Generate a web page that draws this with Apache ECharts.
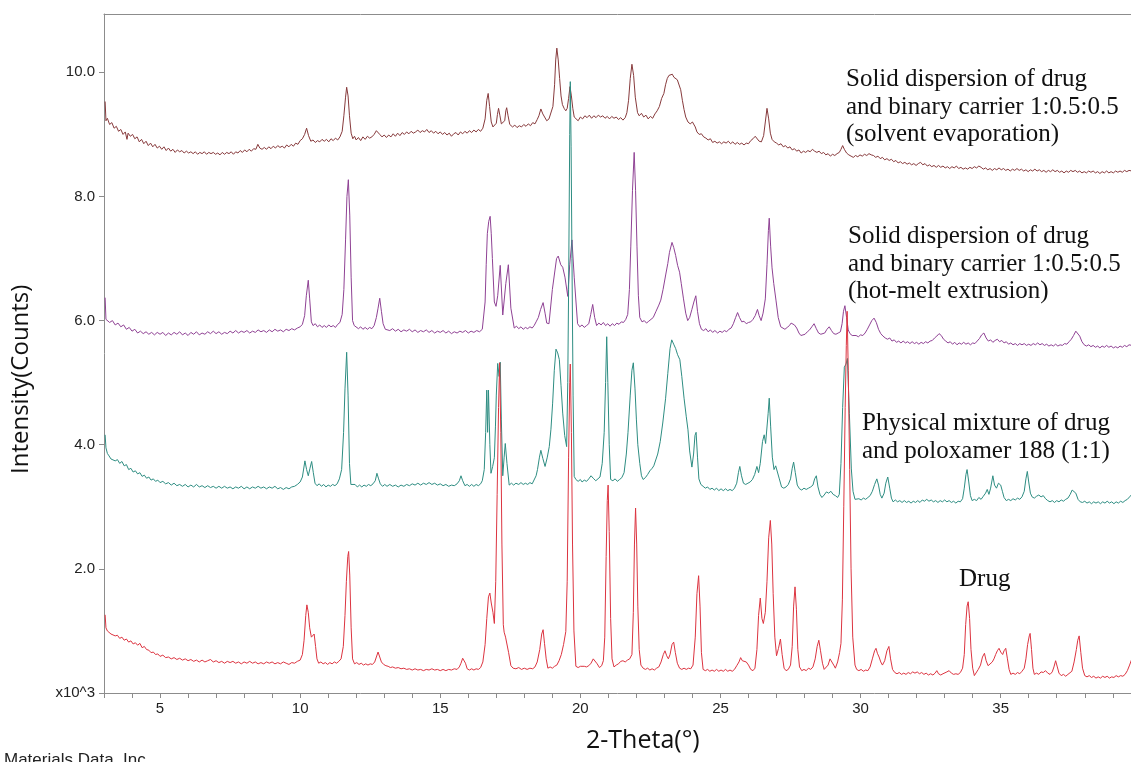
<!DOCTYPE html>
<html>
<head>
<meta charset="utf-8">
<title>XRD patterns</title>
<script src="https://cdn.jsdelivr.net/npm/echarts@6/dist/echarts.min.js"></script>
<style>
  html, body { margin: 0; padding: 0; background: #fff; }
  #chart { width: 1131px; height: 762px; }
</style>
</head>
<body>
<div id="chart"></div>
<script>
// 2-Theta (deg) / intensity (x10^3 counts) pairs for each sample
const sePattern = [
  [3.04, 9.53], [3.07, 9.22], [3.12, 9.26], [3.2, 9.16], [3.28, 9.19], [3.36, 9.10], [3.44, 9.13], [3.52, 9.05],
  [3.6, 9.08], [3.68, 9.00], [3.76, 9.04], [3.82, 8.92], [3.86, 9.02], [3.94, 8.97], [4.02, 9.00], [4.1, 8.93],
  [4.18, 8.96], [4.26, 8.88], [4.34, 8.92], [4.42, 8.85], [4.5, 8.89], [4.58, 8.82], [4.66, 8.86], [4.74, 8.80],
  [4.82, 8.84], [4.9, 8.78], [4.98, 8.81], [5.06, 8.76], [5.14, 8.80], [5.22, 8.74], [5.3, 8.78], [5.38, 8.73],
  [5.46, 8.76], [5.54, 8.71], [5.62, 8.75], [5.7, 8.72], [5.78, 8.74], [5.86, 8.70], [5.94, 8.73], [6.02, 8.70],
  [6.1, 8.72], [6.18, 8.69], [6.26, 8.72], [6.34, 8.68], [6.42, 8.71], [6.5, 8.69], [6.58, 8.72], [6.66, 8.68],
  [6.74, 8.71], [6.82, 8.69], [6.9, 8.71], [6.98, 8.68], [7.06, 8.70], [7.14, 8.67], [7.22, 8.71], [7.3, 8.68],
  [7.38, 8.71], [7.46, 8.69], [7.54, 8.72], [7.62, 8.68], [7.7, 8.72], [7.78, 8.70], [7.86, 8.74], [7.94, 8.71],
  [8.02, 8.75], [8.1, 8.72], [8.18, 8.76], [8.26, 8.73], [8.34, 8.77], [8.42, 8.76], [8.49, 8.84], [8.56, 8.78],
  [8.64, 8.76], [8.72, 8.79], [8.8, 8.76], [8.88, 8.80], [8.96, 8.77], [9.04, 8.81], [9.12, 8.78], [9.2, 8.82],
  [9.28, 8.79], [9.36, 8.81], [9.44, 8.78], [9.52, 8.83], [9.6, 8.80], [9.68, 8.84], [9.76, 8.81], [9.84, 8.86],
  [9.92, 8.84], [10.0, 8.90], [10.08, 8.93], [10.16, 9.00], [10.23, 9.10], [10.30, 8.98], [10.38, 8.89], [10.46, 8.91],
  [10.54, 8.87], [10.62, 8.90], [10.7, 8.88], [10.78, 8.92], [10.86, 8.89], [10.94, 8.92], [11.02, 8.88], [11.1, 8.93],
  [11.18, 8.90], [11.26, 8.94], [11.34, 8.91], [11.42, 8.96], [11.5, 9.05], [11.56, 9.30], [11.62, 9.60], [11.66, 9.76],
  [11.71, 9.62], [11.76, 9.30], [11.82, 9.02], [11.88, 8.93], [11.94, 8.97], [12.0, 8.91], [12.08, 8.95], [12.16, 8.90],
  [12.24, 8.96], [12.32, 8.92], [12.4, 8.97], [12.48, 8.94], [12.56, 8.96], [12.64, 9.00], [12.72, 9.06], [12.77, 9.07],
  [12.84, 9.00], [12.92, 8.96], [13.0, 8.99], [13.08, 8.95], [13.16, 8.99], [13.24, 8.96], [13.32, 9.01], [13.4, 8.97],
  [13.48, 9.02], [13.56, 8.98], [13.64, 9.03], [13.72, 9.00], [13.8, 9.04], [13.88, 9.01], [13.96, 9.05], [14.04, 9.02],
  [14.12, 9.04], [14.2, 9.07], [14.28, 9.03], [14.36, 9.06], [14.44, 9.04], [14.52, 9.08], [14.6, 9.03], [14.68, 9.06],
  [14.76, 9.02], [14.84, 9.05], [14.92, 9.01], [15.0, 9.04], [15.08, 9.00], [15.16, 9.03], [15.24, 8.99], [15.32, 9.02],
  [15.4, 8.97], [15.48, 9.01], [15.56, 9.03], [15.64, 8.99], [15.72, 9.04], [15.8, 9.01], [15.88, 9.05], [15.96, 9.02],
  [16.04, 9.06], [16.12, 9.03], [16.2, 9.07], [16.28, 9.04], [16.36, 9.08], [16.44, 9.05], [16.52, 9.10], [16.6, 9.25],
  [16.66, 9.55], [16.71, 9.66], [16.76, 9.45], [16.82, 9.20], [16.88, 9.12], [16.94, 9.14], [17.0, 9.18], [17.04, 9.32],
  [17.08, 9.42], [17.13, 9.30], [17.18, 9.17], [17.24, 9.15], [17.3, 9.22], [17.34, 9.38], [17.37, 9.43], [17.42, 9.30],
  [17.48, 9.16], [17.54, 9.13], [17.58, 9.12], [17.66, 9.15], [17.74, 9.11], [17.82, 9.14], [17.9, 9.12], [17.98, 9.16],
  [18.06, 9.13], [18.14, 9.17], [18.22, 9.14], [18.3, 9.19], [18.38, 9.17], [18.46, 9.24], [18.52, 9.30], [18.59, 9.41],
  [18.66, 9.33], [18.72, 9.36], [18.8, 9.22], [18.88, 9.25], [18.95, 9.23], [19.02, 9.45], [19.08, 9.80], [19.12, 10.20],
  [19.16, 10.39], [19.21, 10.20], [19.26, 9.90], [19.31, 9.62], [19.36, 9.48], [19.42, 9.42], [19.48, 9.38], [19.53, 9.42],
  [19.58, 9.58], [19.63, 9.77], [19.68, 9.62], [19.73, 9.42], [19.78, 9.28], [19.84, 9.26], [19.92, 9.22], [20.0, 9.28],
  [20.08, 9.25], [20.16, 9.30], [20.24, 9.27], [20.32, 9.31], [20.4, 9.26], [20.48, 9.30], [20.56, 9.27], [20.64, 9.31],
  [20.72, 9.28], [20.8, 9.30], [20.88, 9.26], [20.96, 9.29], [21.04, 9.25], [21.12, 9.29], [21.2, 9.26], [21.28, 9.28],
  [21.36, 9.24], [21.44, 9.27], [21.52, 9.23], [21.6, 9.27], [21.66, 9.35], [21.72, 9.55], [21.78, 9.90], [21.84, 10.13],
  [21.9, 9.95], [21.96, 9.60], [22.04, 9.35], [22.1, 9.30], [22.18, 9.34], [22.26, 9.28], [22.34, 9.31], [22.42, 9.25],
  [22.5, 9.29], [22.58, 9.26], [22.66, 9.33], [22.74, 9.38], [22.82, 9.45], [22.9, 9.58], [22.98, 9.66], [23.04, 9.80],
  [23.1, 9.90], [23.16, 9.95], [23.22, 9.93], [23.28, 9.97], [23.34, 9.92], [23.4, 9.94], [23.46, 9.88], [23.52, 9.85],
  [23.58, 9.72], [23.64, 9.55], [23.7, 9.40], [23.76, 9.28], [23.84, 9.20], [23.92, 9.17], [24.0, 9.20], [24.04, 9.22],
  [24.1, 9.12], [24.16, 9.04], [24.24, 9.00], [24.32, 9.01], [24.4, 8.96], [24.48, 8.94], [24.56, 8.91], [24.64, 8.93],
  [24.72, 8.87], [24.8, 8.89], [24.88, 8.86], [24.96, 8.88], [25.04, 8.85], [25.12, 8.88], [25.2, 8.86], [25.28, 8.89],
  [25.36, 8.85], [25.44, 8.88], [25.52, 8.84], [25.6, 8.87], [25.68, 8.84], [25.76, 8.86], [25.84, 8.83], [25.92, 8.86],
  [26.0, 8.85], [26.08, 8.90], [26.16, 8.93], [26.24, 8.97], [26.3, 8.94], [26.38, 8.89], [26.46, 8.88], [26.54, 8.98],
  [26.6, 9.20], [26.66, 9.42], [26.72, 9.25], [26.78, 9.02], [26.84, 8.92], [26.92, 8.88], [27.0, 8.86], [27.08, 8.83],
  [27.16, 8.85], [27.24, 8.80], [27.32, 8.82], [27.4, 8.78], [27.48, 8.80], [27.56, 8.75], [27.64, 8.77], [27.72, 8.73],
  [27.8, 8.75], [27.88, 8.70], [27.96, 8.73], [28.04, 8.71], [28.12, 8.74], [28.2, 8.72], [28.28, 8.76], [28.36, 8.73],
  [28.44, 8.71], [28.52, 8.73], [28.6, 8.69], [28.68, 8.71], [28.76, 8.67], [28.84, 8.69], [28.92, 8.65], [29.0, 8.68],
  [29.08, 8.66], [29.16, 8.69], [29.24, 8.71], [29.3, 8.76], [29.36, 8.82], [29.42, 8.76], [29.5, 8.70], [29.58, 8.67],
  [29.66, 8.65], [29.74, 8.63], [29.82, 8.66], [29.9, 8.64], [29.98, 8.67], [30.06, 8.65], [30.14, 8.68], [30.22, 8.66],
  [30.3, 8.69], [30.38, 8.67], [30.46, 8.66], [30.54, 8.63], [30.62, 8.65], [30.7, 8.61], [30.78, 8.63], [30.86, 8.59],
  [30.94, 8.61], [31.02, 8.58], [31.1, 8.60], [31.18, 8.56], [31.26, 8.58], [31.34, 8.54], [31.42, 8.56], [31.5, 8.53],
  [31.58, 8.55], [31.66, 8.52], [31.74, 8.54], [31.82, 8.51], [31.9, 8.53], [31.98, 8.50], [32.06, 8.53], [32.14, 8.55],
  [32.22, 8.51], [32.3, 8.53], [32.38, 8.49], [32.46, 8.51], [32.54, 8.48], [32.62, 8.50], [32.7, 8.47], [32.78, 8.50],
  [32.86, 8.47], [32.94, 8.49], [33.02, 8.46], [33.1, 8.48], [33.18, 8.45], [33.26, 8.48], [33.34, 8.46], [33.42, 8.49],
  [33.5, 8.45], [33.58, 8.47], [33.66, 8.44], [33.74, 8.46], [33.82, 8.44], [33.9, 8.47], [33.98, 8.45], [34.06, 8.48],
  [34.14, 8.46], [34.22, 8.49], [34.3, 8.47], [34.38, 8.44], [34.46, 8.46], [34.54, 8.43], [34.62, 8.45], [34.7, 8.42],
  [34.78, 8.45], [34.86, 8.43], [34.94, 8.46], [35.02, 8.43], [35.1, 8.45], [35.18, 8.42], [35.26, 8.44], [35.34, 8.41],
  [35.42, 8.44], [35.5, 8.42], [35.58, 8.45], [35.66, 8.42], [35.74, 8.44], [35.82, 8.41], [35.9, 8.43], [35.98, 8.40],
  [36.06, 8.43], [36.14, 8.41], [36.22, 8.44], [36.3, 8.41], [36.38, 8.43], [36.46, 8.40], [36.54, 8.42], [36.62, 8.39],
  [36.7, 8.42], [36.78, 8.40], [36.86, 8.43], [36.94, 8.40], [37.02, 8.42], [37.1, 8.39], [37.18, 8.41], [37.26, 8.38],
  [37.34, 8.41], [37.42, 8.39], [37.5, 8.42], [37.58, 8.40], [37.66, 8.42], [37.74, 8.39], [37.82, 8.41], [37.9, 8.38],
  [37.98, 8.40], [38.06, 8.38], [38.14, 8.41], [38.22, 8.39], [38.3, 8.41], [38.38, 8.38], [38.46, 8.40], [38.54, 8.37],
  [38.62, 8.40], [38.7, 8.38], [38.78, 8.41], [38.86, 8.38], [38.94, 8.40], [39.02, 8.38], [39.1, 8.41], [39.18, 8.39],
  [39.26, 8.41], [39.34, 8.39], [39.42, 8.42], [39.5, 8.40], [39.58, 8.42], [39.68, 8.41]
];

const hmePattern = [
  [3.04, 6.37], [3.07, 6.02], [3.12, 6.05], [3.2, 5.97], [3.3, 6.00], [3.4, 5.93], [3.5, 5.96], [3.6, 5.90],
  [3.7, 5.93], [3.8, 5.86], [3.9, 5.89], [4.0, 5.83], [4.1, 5.86], [4.2, 5.80], [4.3, 5.83], [4.4, 5.79],
  [4.5, 5.82], [4.6, 5.78], [4.7, 5.81], [4.8, 5.77], [4.9, 5.81], [5.0, 5.78], [5.1, 5.81], [5.2, 5.76],
  [5.3, 5.80], [5.4, 5.77], [5.5, 5.81], [5.6, 5.78], [5.7, 5.82], [5.8, 5.77], [5.9, 5.80], [6.0, 5.76],
  [6.1, 5.81], [6.2, 5.78], [6.3, 5.82], [6.4, 5.77], [6.5, 5.80], [6.6, 5.78], [6.7, 5.82], [6.8, 5.79],
  [6.9, 5.83], [7.0, 5.79], [7.1, 5.82], [7.2, 5.78], [7.3, 5.81], [7.4, 5.79], [7.5, 5.83], [7.6, 5.80],
  [7.7, 5.84], [7.8, 5.80], [7.9, 5.83], [8.0, 5.81], [8.1, 5.84], [8.2, 5.80], [8.3, 5.83], [8.4, 5.81],
  [8.5, 5.85], [8.6, 5.82], [8.7, 5.84], [8.8, 5.81], [8.9, 5.85], [9.0, 5.82], [9.1, 5.86], [9.2, 5.83],
  [9.3, 5.85], [9.4, 5.82], [9.5, 5.86], [9.6, 5.84], [9.7, 5.87], [9.8, 5.85], [9.9, 5.88], [10.0, 5.90],
  [10.08, 5.94], [10.16, 6.08], [10.22, 6.40], [10.29, 6.65], [10.34, 6.35], [10.40, 5.98], [10.46, 5.92], [10.54, 5.95],
  [10.62, 5.90], [10.7, 5.93], [10.78, 5.89], [10.86, 5.92], [10.94, 5.89], [11.02, 5.93], [11.1, 5.90], [11.18, 5.92],
  [11.26, 5.89], [11.34, 5.94], [11.42, 5.97], [11.5, 6.10], [11.56, 6.50], [11.62, 7.30], [11.67, 8.00], [11.72, 8.27],
  [11.77, 7.70], [11.82, 6.70], [11.87, 6.00], [11.93, 5.92], [12.0, 5.90], [12.08, 5.87], [12.16, 5.90], [12.24, 5.86],
  [12.32, 5.89], [12.4, 5.86], [12.48, 5.89], [12.56, 5.87], [12.64, 5.92], [12.72, 6.05], [12.78, 6.20], [12.84, 6.36],
  [12.9, 6.15], [12.96, 5.95], [13.04, 5.86], [13.1, 5.89], [13.2, 5.84], [13.3, 5.87], [13.4, 5.83], [13.5, 5.86],
  [13.6, 5.82], [13.7, 5.85], [13.8, 5.83], [13.9, 5.86], [14.0, 5.82], [14.1, 5.85], [14.2, 5.81], [14.3, 5.84],
  [14.4, 5.82], [14.5, 5.85], [14.6, 5.81], [14.7, 5.84], [14.8, 5.80], [14.9, 5.83], [15.0, 5.81], [15.1, 5.84],
  [15.2, 5.80], [15.3, 5.83], [15.4, 5.79], [15.5, 5.82], [15.6, 5.80], [15.7, 5.83], [15.8, 5.81], [15.9, 5.84],
  [16.0, 5.80], [16.1, 5.83], [16.2, 5.81], [16.3, 5.84], [16.4, 5.82], [16.5, 5.86], [16.6, 6.30], [16.64, 6.90],
  [16.68, 7.40], [16.73, 7.60], [16.78, 7.68], [16.82, 7.40], [16.86, 7.00], [16.93, 6.30], [16.99, 6.23], [17.05, 6.40],
  [17.14, 6.89], [17.23, 6.09], [17.28, 6.10], [17.34, 6.60], [17.43, 6.90], [17.52, 6.20], [17.64, 5.88], [17.72, 5.91],
  [17.8, 5.87], [17.88, 5.90], [17.96, 5.86], [18.04, 5.89], [18.12, 5.87], [18.2, 5.90], [18.28, 5.88], [18.35, 5.92],
  [18.42, 5.98], [18.5, 6.05], [18.58, 6.18], [18.67, 6.29], [18.74, 6.12], [18.80, 5.96], [18.88, 5.95], [19.0, 6.50],
  [19.15, 7.00], [19.21, 7.04], [19.3, 6.90], [19.37, 6.86], [19.45, 6.70], [19.55, 6.39], [19.62, 6.90], [19.70, 7.30],
  [19.78, 6.70], [19.90, 5.95], [19.98, 5.90], [20.06, 5.93], [20.14, 5.89], [20.22, 5.92], [20.3, 5.95], [20.37, 6.10],
  [20.44, 6.26], [20.51, 6.05], [20.58, 5.92], [20.66, 5.96], [20.74, 5.93], [20.82, 5.97], [20.9, 5.92], [20.98, 5.95],
  [21.06, 5.91], [21.14, 5.95], [21.22, 5.92], [21.3, 5.96], [21.38, 5.94], [21.46, 5.98], [21.54, 5.97], [21.62, 6.02],
  [21.69, 6.10], [21.75, 6.50], [21.80, 7.20], [21.86, 8.10], [21.92, 8.71], [21.97, 8.10], [22.02, 7.20], [22.07, 6.40],
  [22.12, 6.05], [22.2, 5.98], [22.28, 6.00], [22.36, 5.96], [22.44, 5.99], [22.52, 6.02], [22.6, 6.05], [22.7, 6.15],
  [22.8, 6.25], [22.87, 6.33], [22.95, 6.50], [23.05, 6.75], [23.12, 6.92], [23.18, 7.10], [23.27, 7.26], [23.33, 7.18],
  [23.4, 7.05], [23.47, 6.89], [23.54, 6.78], [23.6, 6.60], [23.68, 6.35], [23.76, 6.12], [23.83, 6.00], [23.9, 6.05],
  [23.98, 6.18], [24.05, 6.30], [24.12, 6.40], [24.18, 6.15], [24.25, 5.95], [24.32, 5.86], [24.4, 5.84], [24.48, 5.87],
  [24.56, 5.82], [24.64, 5.85], [24.72, 5.81], [24.8, 5.84], [24.9, 5.80], [24.98, 5.83], [25.06, 5.81], [25.14, 5.84],
  [25.22, 5.82], [25.3, 5.86], [25.38, 5.88], [25.46, 5.95], [25.54, 6.05], [25.61, 6.13], [25.68, 6.05], [25.76, 5.98],
  [25.84, 5.99], [25.92, 5.95], [26.0, 5.97], [26.08, 5.98], [26.16, 6.02], [26.24, 6.08], [26.32, 6.18], [26.38, 6.08],
  [26.45, 6.00], [26.52, 6.12], [26.6, 6.35], [26.66, 6.90], [26.71, 7.45], [26.74, 7.65], [26.79, 7.20], [26.84, 6.85],
  [26.9, 6.60], [26.98, 6.33], [27.06, 6.05], [27.15, 5.90], [27.22, 5.88], [27.3, 5.86], [27.38, 5.89], [27.46, 5.92],
  [27.52, 5.96], [27.57, 5.98], [27.64, 5.93], [27.72, 5.88], [27.8, 5.80], [27.87, 5.76], [27.94, 5.79], [28.02, 5.78],
  [28.1, 5.82], [28.18, 5.85], [28.26, 5.90], [28.34, 5.95], [28.42, 5.87], [28.5, 5.80], [28.58, 5.78], [28.65, 5.76],
  [28.72, 5.80], [28.8, 5.86], [28.88, 5.90], [28.96, 5.84], [29.04, 5.79], [29.12, 5.78], [29.2, 5.80], [29.28, 5.82],
  [29.34, 5.95], [29.39, 6.15], [29.44, 6.24], [29.5, 6.05], [29.56, 5.85], [29.62, 5.79], [29.7, 5.76], [29.77, 5.73],
  [29.84, 5.76], [29.92, 5.74], [30.0, 5.77], [30.08, 5.76], [30.16, 5.80], [30.24, 5.86], [30.32, 5.93], [30.4, 6.00],
  [30.48, 6.04], [30.56, 5.97], [30.64, 5.86], [30.72, 5.79], [30.8, 5.75], [30.88, 5.72], [30.96, 5.70], [31.04, 5.72],
  [31.12, 5.67], [31.2, 5.69], [31.28, 5.65], [31.36, 5.67], [31.44, 5.64], [31.52, 5.67], [31.6, 5.64], [31.68, 5.66],
  [31.76, 5.63], [31.84, 5.66], [31.92, 5.63], [32.0, 5.65], [32.08, 5.62], [32.16, 5.65], [32.24, 5.63], [32.32, 5.66],
  [32.4, 5.64], [32.48, 5.67], [32.56, 5.68], [32.64, 5.72], [32.72, 5.75], [32.8, 5.79], [32.88, 5.76], [32.96, 5.70],
  [33.04, 5.67], [33.12, 5.64], [33.2, 5.66], [33.28, 5.62], [33.36, 5.65], [33.44, 5.61], [33.52, 5.64], [33.6, 5.62],
  [33.68, 5.65], [33.76, 5.62], [33.84, 5.64], [33.92, 5.61], [34.0, 5.64], [34.08, 5.63], [34.16, 5.67], [34.24, 5.71],
  [34.32, 5.77], [34.4, 5.80], [34.48, 5.72], [34.56, 5.67], [34.64, 5.69], [34.72, 5.65], [34.8, 5.68], [34.88, 5.70],
  [34.96, 5.66], [35.04, 5.68], [35.12, 5.64], [35.2, 5.66], [35.28, 5.62], [35.36, 5.64], [35.44, 5.61], [35.52, 5.63],
  [35.6, 5.60], [35.68, 5.63], [35.76, 5.61], [35.84, 5.63], [35.92, 5.60], [36.0, 5.62], [36.08, 5.60], [36.16, 5.63],
  [36.24, 5.61], [36.32, 5.64], [36.4, 5.61], [36.48, 5.63], [36.56, 5.60], [36.64, 5.62], [36.72, 5.59], [36.8, 5.61],
  [36.88, 5.59], [36.96, 5.62], [37.04, 5.59], [37.12, 5.61], [37.2, 5.60], [37.28, 5.63], [37.36, 5.62], [37.44, 5.66],
  [37.52, 5.70], [37.6, 5.76], [37.68, 5.83], [37.75, 5.85], [37.82, 5.75], [37.9, 5.66], [37.98, 5.61], [38.06, 5.59],
  [38.14, 5.61], [38.22, 5.58], [38.3, 5.60], [38.38, 5.57], [38.46, 5.59], [38.54, 5.56], [38.62, 5.59], [38.7, 5.57],
  [38.78, 5.60], [38.86, 5.57], [38.94, 5.59], [39.02, 5.56], [39.1, 5.58], [39.18, 5.56], [39.26, 5.59], [39.34, 5.57],
  [39.42, 5.60], [39.5, 5.58], [39.58, 5.61], [39.68, 5.60]
];

const physMixPattern = [
  [3.04, 4.16], [3.07, 3.95], [3.12, 3.86], [3.18, 3.82], [3.25, 3.77], [3.32, 3.79], [3.4, 3.74], [3.48, 3.76],
  [3.56, 3.70], [3.64, 3.73], [3.72, 3.66], [3.8, 3.68], [3.88, 3.60], [3.96, 3.62], [4.04, 3.56], [4.12, 3.58],
  [4.2, 3.53], [4.28, 3.55], [4.36, 3.49], [4.44, 3.51], [4.52, 3.46], [4.6, 3.48], [4.68, 3.43], [4.76, 3.45],
  [4.84, 3.41], [4.92, 3.43], [5.0, 3.39], [5.1, 3.41], [5.2, 3.37], [5.3, 3.39], [5.4, 3.35], [5.5, 3.38],
  [5.6, 3.34], [5.7, 3.36], [5.8, 3.33], [5.9, 3.36], [6.0, 3.32], [6.1, 3.35], [6.2, 3.32], [6.3, 3.36],
  [6.4, 3.32], [6.5, 3.34], [6.6, 3.31], [6.7, 3.34], [6.8, 3.31], [6.9, 3.33], [7.0, 3.30], [7.1, 3.33],
  [7.2, 3.30], [7.3, 3.33], [7.4, 3.30], [7.5, 3.32], [7.6, 3.29], [7.7, 3.32], [7.8, 3.30], [7.9, 3.33],
  [8.0, 3.29], [8.1, 3.32], [8.2, 3.29], [8.3, 3.32], [8.4, 3.30], [8.5, 3.33], [8.6, 3.30], [8.7, 3.32],
  [8.8, 3.29], [8.9, 3.32], [9.0, 3.30], [9.1, 3.33], [9.2, 3.29], [9.3, 3.31], [9.4, 3.28], [9.5, 3.31],
  [9.6, 3.29], [9.7, 3.32], [9.8, 3.33], [9.9, 3.36], [10.0, 3.40], [10.08, 3.48], [10.17, 3.74], [10.23, 3.60],
  [10.29, 3.50], [10.35, 3.62], [10.41, 3.73], [10.47, 3.55], [10.53, 3.38], [10.6, 3.34], [10.68, 3.37], [10.76, 3.33],
  [10.84, 3.36], [10.92, 3.32], [11.0, 3.35], [11.08, 3.33], [11.16, 3.36], [11.24, 3.34], [11.32, 3.37], [11.4, 3.45],
  [11.48, 3.60], [11.55, 4.20], [11.6, 4.90], [11.66, 5.49], [11.71, 4.80], [11.76, 3.70], [11.81, 3.36], [11.88, 3.33],
  [11.96, 3.36], [12.04, 3.32], [12.12, 3.35], [12.2, 3.32], [12.28, 3.35], [12.36, 3.33], [12.44, 3.36], [12.52, 3.34],
  [12.6, 3.37], [12.68, 3.42], [12.74, 3.54], [12.8, 3.45], [12.86, 3.37], [12.94, 3.33], [13.02, 3.36], [13.1, 3.33],
  [13.2, 3.36], [13.3, 3.33], [13.4, 3.35], [13.5, 3.32], [13.6, 3.35], [13.7, 3.33], [13.8, 3.36], [13.9, 3.34],
  [14.0, 3.37], [14.1, 3.35], [14.2, 3.38], [14.3, 3.35], [14.4, 3.38], [14.5, 3.36], [14.6, 3.39], [14.7, 3.36],
  [14.8, 3.38], [14.9, 3.35], [15.0, 3.37], [15.1, 3.34], [15.2, 3.36], [15.3, 3.33], [15.4, 3.35], [15.5, 3.34],
  [15.6, 3.37], [15.68, 3.42], [15.74, 3.50], [15.8, 3.42], [15.88, 3.34], [15.96, 3.36], [16.04, 3.33], [16.12, 3.36],
  [16.2, 3.33], [16.28, 3.36], [16.36, 3.34], [16.44, 3.37], [16.5, 3.42], [16.57, 3.60], [16.62, 4.20], [16.66, 4.88],
  [16.69, 4.20], [16.72, 4.88], [16.77, 4.00], [16.81, 3.54], [16.87, 3.65], [16.93, 3.79], [16.97, 4.30], [17.0, 4.80],
  [17.05, 5.31], [17.10, 5.10], [17.14, 5.33], [17.18, 4.40], [17.23, 3.50], [17.28, 3.80], [17.32, 4.02], [17.38, 3.70],
  [17.46, 3.35], [17.54, 3.38], [17.62, 3.35], [17.7, 3.38], [17.8, 3.36], [17.88, 3.39], [17.96, 3.36], [18.04, 3.38],
  [18.12, 3.36], [18.2, 3.39], [18.28, 3.37], [18.35, 3.40], [18.42, 3.50], [18.47, 3.60], [18.54, 3.80], [18.59, 3.91],
  [18.66, 3.78], [18.74, 3.65], [18.82, 3.80], [18.89, 3.97], [18.95, 4.25], [19.01, 4.67], [19.07, 5.20], [19.13, 5.54],
  [19.19, 5.48], [19.25, 5.37], [19.31, 4.95], [19.37, 4.51], [19.44, 4.15], [19.51, 3.97], [19.55, 5.00], [19.58, 6.50],
  [19.62, 9.00], [19.64, 9.85], [19.67, 8.80], [19.70, 7.00], [19.74, 4.80], [19.78, 3.49], [19.84, 3.44], [19.92, 3.41],
  [20.0, 3.44], [20.06, 3.40], [20.14, 3.43], [20.22, 3.41], [20.3, 3.45], [20.38, 3.50], [20.46, 3.46], [20.55, 3.42],
  [20.62, 3.44], [20.7, 3.48], [20.78, 3.70], [20.85, 4.20], [20.9, 5.00], [20.94, 5.74], [20.98, 5.00], [21.03, 4.00],
  [21.08, 3.44], [21.16, 3.42], [21.24, 3.45], [21.32, 3.41], [21.4, 3.44], [21.48, 3.47], [21.56, 3.55], [21.64, 3.85],
  [21.70, 4.20], [21.78, 4.80], [21.84, 5.20], [21.89, 5.32], [21.95, 4.90], [22.0, 4.40], [22.05, 4.00], [22.12, 3.70],
  [22.18, 3.50], [22.24, 3.44], [22.32, 3.47], [22.4, 3.52], [22.48, 3.58], [22.56, 3.62], [22.62, 3.66], [22.68, 3.69],
  [22.76, 3.85], [22.85, 4.05], [22.94, 4.35], [23.04, 4.74], [23.12, 5.15], [23.2, 5.55], [23.26, 5.69], [23.33, 5.62],
  [23.4, 5.55], [23.47, 5.45], [23.55, 5.37], [23.62, 5.10], [23.7, 4.75], [23.78, 4.45], [23.84, 4.24], [23.9, 3.90],
  [23.98, 3.64], [24.04, 3.85], [24.09, 4.15], [24.13, 4.20], [24.18, 3.80], [24.23, 3.45], [24.3, 3.36], [24.38, 3.33],
  [24.46, 3.30], [24.54, 3.32], [24.62, 3.28], [24.7, 3.30], [24.78, 3.27], [24.86, 3.30], [24.94, 3.26], [25.02, 3.29],
  [25.1, 3.26], [25.18, 3.29], [25.26, 3.26], [25.34, 3.28], [25.42, 3.26], [25.5, 3.30], [25.58, 3.38], [25.64, 3.55],
  [25.69, 3.65], [25.75, 3.50], [25.82, 3.38], [25.9, 3.36], [25.98, 3.38], [26.06, 3.40], [26.14, 3.44], [26.22, 3.52],
  [26.3, 3.65], [26.36, 3.55], [26.42, 3.70], [26.5, 4.05], [26.56, 4.16], [26.61, 4.02], [26.65, 4.05], [26.7, 4.50],
  [26.74, 4.75], [26.79, 4.30], [26.85, 3.80], [26.91, 3.60], [26.97, 3.66], [27.03, 3.67], [27.1, 3.45], [27.18, 3.32],
  [27.26, 3.30], [27.34, 3.32], [27.42, 3.36], [27.5, 3.45], [27.56, 3.62], [27.61, 3.72], [27.67, 3.55], [27.74, 3.35],
  [27.82, 3.29], [27.9, 3.27], [27.98, 3.30], [28.06, 3.28], [28.14, 3.30], [28.22, 3.32], [28.3, 3.35], [28.36, 3.45],
  [28.42, 3.50], [28.48, 3.32], [28.55, 3.20], [28.62, 3.15], [28.7, 3.19], [28.78, 3.24], [28.86, 3.22], [28.94, 3.25],
  [29.02, 3.20], [29.1, 3.18], [29.18, 3.15], [29.24, 3.20], [29.3, 3.70], [29.36, 4.60], [29.42, 5.25], [29.48, 5.30],
  [29.53, 5.39], [29.6, 4.50], [29.67, 3.61], [29.73, 3.25], [29.8, 3.12], [29.86, 3.10], [29.94, 3.13], [30.02, 3.11],
  [30.1, 3.14], [30.18, 3.12], [30.26, 3.15], [30.34, 3.18], [30.42, 3.25], [30.5, 3.36], [30.58, 3.45], [30.64, 3.35],
  [30.7, 3.20], [30.76, 3.14], [30.84, 3.22], [30.9, 3.38], [30.97, 3.48], [31.04, 3.30], [31.1, 3.14], [31.16, 3.08],
  [31.24, 3.11], [31.32, 3.08], [31.4, 3.10], [31.48, 3.07], [31.56, 3.10], [31.64, 3.07], [31.72, 3.09], [31.8, 3.06],
  [31.88, 3.09], [31.96, 3.07], [32.04, 3.10], [32.12, 3.07], [32.2, 3.11], [32.28, 3.09], [32.36, 3.12], [32.44, 3.09],
  [32.52, 3.11], [32.6, 3.08], [32.68, 3.10], [32.76, 3.07], [32.84, 3.10], [32.92, 3.08], [33.0, 3.11], [33.08, 3.08],
  [33.16, 3.10], [33.24, 3.07], [33.32, 3.09], [33.4, 3.06], [33.48, 3.09], [33.56, 3.08], [33.64, 3.13], [33.7, 3.30],
  [33.76, 3.52], [33.8, 3.60], [33.86, 3.40], [33.92, 3.18], [33.98, 3.10], [34.06, 3.12], [34.14, 3.10], [34.22, 3.15],
  [34.3, 3.12], [34.38, 3.17], [34.46, 3.22], [34.52, 3.28], [34.58, 3.20], [34.64, 3.30], [34.72, 3.50], [34.78, 3.35],
  [34.85, 3.30], [34.92, 3.38], [35.0, 3.35], [35.06, 3.25], [35.12, 3.15], [35.2, 3.10], [35.28, 3.12], [35.36, 3.10],
  [35.44, 3.13], [35.52, 3.11], [35.6, 3.14], [35.68, 3.12], [35.76, 3.16], [35.84, 3.25], [35.9, 3.45], [35.95, 3.57],
  [36.0, 3.40], [36.06, 3.22], [36.12, 3.16], [36.2, 3.14], [36.28, 3.17], [36.36, 3.19], [36.44, 3.16], [36.52, 3.18],
  [36.6, 3.13], [36.68, 3.10], [36.76, 3.08], [36.84, 3.10], [36.92, 3.07], [37.0, 3.10], [37.08, 3.08], [37.16, 3.11],
  [37.24, 3.09], [37.32, 3.12], [37.4, 3.14], [37.48, 3.20], [37.55, 3.27], [37.61, 3.30], [37.68, 3.22], [37.76, 3.12],
  [37.84, 3.08], [37.92, 3.07], [38.0, 3.09], [38.08, 3.06], [38.16, 3.08], [38.24, 3.05], [38.32, 3.08], [38.4, 3.06],
  [38.48, 3.08], [38.56, 3.05], [38.64, 3.08], [38.72, 3.06], [38.8, 3.09], [38.88, 3.06], [38.96, 3.08], [39.04, 3.05],
  [39.12, 3.08], [39.2, 3.06], [39.28, 3.09], [39.36, 3.07], [39.44, 3.10], [39.52, 3.12], [39.6, 3.16], [39.68, 3.20]
];

const drugPattern = [
  [3.04, 1.26], [3.07, 1.05], [3.12, 1.00], [3.18, 0.98], [3.25, 0.95], [3.32, 0.96], [3.4, 0.92], [3.48, 0.93],
  [3.56, 0.88], [3.64, 0.90], [3.72, 0.85], [3.8, 0.87], [3.88, 0.82], [3.96, 0.84], [4.04, 0.79], [4.12, 0.81],
  [4.2, 0.77], [4.28, 0.80], [4.36, 0.73], [4.44, 0.75], [4.52, 0.70], [4.6, 0.69], [4.68, 0.65], [4.76, 0.66],
  [4.84, 0.62], [4.92, 0.63], [5.0, 0.59], [5.1, 0.61], [5.2, 0.57], [5.3, 0.58], [5.4, 0.55], [5.5, 0.57],
  [5.6, 0.54], [5.7, 0.56], [5.8, 0.53], [5.9, 0.55], [6.0, 0.52], [6.1, 0.54], [6.2, 0.51], [6.3, 0.53],
  [6.4, 0.50], [6.5, 0.53], [6.6, 0.50], [6.7, 0.52], [6.8, 0.54], [6.9, 0.50], [7.0, 0.52], [7.1, 0.49],
  [7.2, 0.51], [7.3, 0.48], [7.4, 0.51], [7.5, 0.49], [7.6, 0.51], [7.7, 0.48], [7.8, 0.50], [7.9, 0.47],
  [8.0, 0.50], [8.1, 0.48], [8.2, 0.51], [8.3, 0.48], [8.4, 0.50], [8.5, 0.47], [8.6, 0.49], [8.7, 0.47],
  [8.8, 0.50], [8.9, 0.48], [9.0, 0.50], [9.1, 0.47], [9.2, 0.49], [9.3, 0.47], [9.4, 0.50], [9.5, 0.48],
  [9.6, 0.46], [9.7, 0.49], [9.8, 0.48], [9.9, 0.51], [10.0, 0.53], [10.08, 0.62], [10.14, 0.85], [10.2, 1.25],
  [10.24, 1.42], [10.29, 1.30], [10.34, 1.05], [10.40, 0.90], [10.45, 0.92], [10.50, 0.95], [10.55, 0.75], [10.6, 0.55],
  [10.66, 0.48], [10.74, 0.50], [10.82, 0.47], [10.9, 0.49], [10.98, 0.46], [11.06, 0.49], [11.14, 0.47], [11.22, 0.50],
  [11.3, 0.48], [11.38, 0.51], [11.46, 0.55], [11.54, 0.75], [11.6, 1.25], [11.65, 1.80], [11.7, 2.20], [11.73, 2.28],
  [11.77, 1.90], [11.82, 1.05], [11.87, 0.55], [11.94, 0.47], [12.02, 0.49], [12.1, 0.46], [12.18, 0.48], [12.26, 0.45],
  [12.34, 0.47], [12.42, 0.45], [12.5, 0.47], [12.58, 0.46], [12.66, 0.50], [12.72, 0.58], [12.78, 0.66], [12.84, 0.58],
  [12.9, 0.50], [12.98, 0.46], [13.06, 0.44], [13.14, 0.43], [13.22, 0.41], [13.3, 0.42], [13.4, 0.40], [13.5, 0.41],
  [13.6, 0.39], [13.7, 0.40], [13.8, 0.38], [13.9, 0.39], [14.0, 0.37], [14.1, 0.39], [14.2, 0.37], [14.3, 0.38],
  [14.4, 0.36], [14.5, 0.38], [14.6, 0.37], [14.7, 0.39], [14.8, 0.37], [14.9, 0.38], [15.0, 0.36], [15.1, 0.38],
  [15.2, 0.36], [15.3, 0.38], [15.4, 0.37], [15.5, 0.39], [15.6, 0.38], [15.68, 0.42], [15.74, 0.48], [15.8, 0.56],
  [15.84, 0.59], [15.9, 0.48], [15.96, 0.39], [16.04, 0.37], [16.12, 0.39], [16.2, 0.37], [16.28, 0.39], [16.36, 0.38],
  [16.44, 0.41], [16.52, 0.50], [16.6, 0.78], [16.66, 1.20], [16.72, 1.55], [16.77, 1.61], [16.82, 1.45], [16.88, 1.30],
  [16.93, 1.12], [16.98, 1.80], [17.03, 3.20], [17.08, 4.60], [17.12, 5.32], [17.16, 4.20], [17.2, 2.40], [17.25, 1.10],
  [17.28, 0.98], [17.33, 0.90], [17.38, 0.88], [17.44, 0.65], [17.52, 0.44], [17.6, 0.40], [17.7, 0.39], [17.8, 0.41],
  [17.9, 0.38], [18.0, 0.40], [18.1, 0.38], [18.2, 0.40], [18.3, 0.39], [18.38, 0.42], [18.46, 0.50], [18.55, 0.70],
  [18.62, 0.95], [18.67, 1.02], [18.72, 0.80], [18.78, 0.55], [18.84, 0.40], [18.92, 0.42], [19.0, 0.40], [19.08, 0.43],
  [19.16, 0.45], [19.24, 0.52], [19.32, 0.62], [19.4, 0.78], [19.48, 0.99], [19.53, 1.80], [19.58, 3.80], [19.62, 5.00],
  [19.64, 5.30], [19.68, 4.20], [19.72, 2.40], [19.77, 1.00], [19.84, 0.43], [19.92, 0.41], [20.0, 0.43], [20.06, 0.40],
  [20.14, 0.43], [20.22, 0.42], [20.3, 0.44], [20.38, 0.48], [20.46, 0.55], [20.53, 0.57], [20.6, 0.47], [20.68, 0.41],
  [20.76, 0.44], [20.82, 0.52], [20.87, 0.90], [20.92, 2.20], [20.96, 3.10], [20.99, 3.35], [21.03, 2.60], [21.08, 1.20],
  [21.13, 0.55], [21.2, 0.42], [21.28, 0.45], [21.36, 0.47], [21.44, 0.51], [21.52, 0.52], [21.6, 0.50], [21.68, 0.53],
  [21.76, 0.55], [21.84, 0.62], [21.89, 1.30], [21.93, 2.40], [21.97, 2.98], [22.01, 2.40], [22.05, 1.40], [22.1, 0.70],
  [22.16, 0.45], [22.24, 0.40], [22.32, 0.38], [22.4, 0.40], [22.48, 0.37], [22.56, 0.39], [22.64, 0.37], [22.72, 0.40],
  [22.8, 0.42], [22.88, 0.50], [22.96, 0.62], [23.02, 0.68], [23.08, 0.60], [23.14, 0.55], [23.2, 0.62], [23.27, 0.78],
  [23.33, 0.82], [23.39, 0.65], [23.46, 0.48], [23.54, 0.40], [23.62, 0.38], [23.7, 0.40], [23.78, 0.38], [23.86, 0.40],
  [23.94, 0.39], [24.02, 0.45], [24.1, 0.90], [24.16, 1.60], [24.22, 1.89], [24.27, 1.40], [24.32, 0.65], [24.38, 0.38],
  [24.46, 0.36], [24.54, 0.38], [24.62, 0.35], [24.7, 0.37], [24.78, 0.35], [24.86, 0.38], [24.94, 0.35], [25.02, 0.37],
  [25.1, 0.35], [25.18, 0.38], [25.26, 0.35], [25.34, 0.37], [25.42, 0.35], [25.5, 0.38], [25.58, 0.44], [25.66, 0.50],
  [25.72, 0.57], [25.78, 0.52], [25.84, 0.53], [25.92, 0.50], [26.0, 0.45], [26.08, 0.38], [26.16, 0.36], [26.23, 0.40],
  [26.3, 0.70], [26.36, 1.25], [26.42, 1.53], [26.48, 1.20], [26.53, 1.12], [26.6, 1.30], [26.66, 1.80], [26.72, 2.50],
  [26.78, 2.78], [26.83, 2.40], [26.88, 1.60], [26.94, 0.90], [27.0, 0.60], [27.07, 0.72], [27.14, 0.87], [27.2, 0.62],
  [27.27, 0.40], [27.34, 0.36], [27.42, 0.38], [27.5, 0.45], [27.56, 0.75], [27.61, 1.40], [27.66, 1.71], [27.71, 1.35],
  [27.76, 0.70], [27.82, 0.42], [27.9, 0.36], [27.98, 0.38], [28.06, 0.36], [28.14, 0.40], [28.22, 0.38], [28.3, 0.42],
  [28.38, 0.55], [28.45, 0.75], [28.51, 0.85], [28.57, 0.68], [28.64, 0.48], [28.7, 0.38], [28.76, 0.36], [28.84, 0.45],
  [28.91, 0.55], [28.98, 0.54], [29.04, 0.45], [29.1, 0.40], [29.18, 0.50], [29.25, 0.65], [29.3, 0.80], [29.35, 1.50],
  [29.4, 3.00], [29.45, 4.60], [29.49, 5.60], [29.52, 6.15], [29.56, 5.20], [29.61, 3.60], [29.66, 2.00], [29.72, 0.90],
  [29.8, 0.45], [29.86, 0.38], [29.94, 0.36], [30.02, 0.38], [30.1, 0.35], [30.18, 0.37], [30.26, 0.36], [30.34, 0.42],
  [30.42, 0.55], [30.5, 0.68], [30.55, 0.72], [30.6, 0.64], [30.66, 0.58], [30.72, 0.50], [30.78, 0.45], [30.86, 0.52],
  [30.94, 0.68], [31.01, 0.75], [31.07, 0.55], [31.14, 0.38], [31.22, 0.33], [31.3, 0.31], [31.38, 0.33], [31.46, 0.30],
  [31.54, 0.32], [31.62, 0.30], [31.7, 0.33], [31.78, 0.31], [31.86, 0.34], [31.94, 0.32], [32.02, 0.34], [32.1, 0.31],
  [32.18, 0.33], [32.26, 0.30], [32.34, 0.32], [32.42, 0.29], [32.5, 0.31], [32.58, 0.29], [32.66, 0.32], [32.72, 0.36],
  [32.78, 0.31], [32.86, 0.29], [32.94, 0.31], [33.0, 0.30], [33.08, 0.34], [33.16, 0.36], [33.24, 0.32], [33.32, 0.30],
  [33.4, 0.31], [33.48, 0.30], [33.56, 0.33], [33.64, 0.40], [33.7, 0.62], [33.75, 1.10], [33.8, 1.40], [33.84, 1.47],
  [33.89, 1.20], [33.94, 0.70], [34.0, 0.40], [34.06, 0.28], [34.12, 0.30], [34.2, 0.38], [34.28, 0.45], [34.35, 0.58],
  [34.42, 0.64], [34.48, 0.52], [34.55, 0.44], [34.62, 0.42], [34.7, 0.50], [34.76, 0.55], [34.82, 0.62], [34.88, 0.68],
  [34.94, 0.72], [35.0, 0.66], [35.07, 0.62], [35.12, 0.68], [35.18, 0.72], [35.24, 0.55], [35.3, 0.38], [35.36, 0.30],
  [35.44, 0.32], [35.52, 0.30], [35.6, 0.33], [35.68, 0.31], [35.76, 0.35], [35.84, 0.40], [35.9, 0.55], [35.96, 0.78],
  [36.02, 0.92], [36.05, 0.96], [36.1, 0.70], [36.15, 0.40], [36.2, 0.30], [36.28, 0.32], [36.36, 0.30], [36.44, 0.34],
  [36.52, 0.33], [36.6, 0.36], [36.68, 0.32], [36.76, 0.30], [36.84, 0.34], [36.9, 0.42], [36.96, 0.52], [37.02, 0.42],
  [37.08, 0.32], [37.16, 0.28], [37.24, 0.30], [37.32, 0.27], [37.4, 0.30], [37.47, 0.28], [37.54, 0.35], [37.62, 0.50],
  [37.7, 0.70], [37.75, 0.85], [37.8, 0.92], [37.86, 0.65], [37.92, 0.40], [38.0, 0.28], [38.08, 0.26], [38.16, 0.28],
  [38.24, 0.25], [38.32, 0.27], [38.4, 0.24], [38.48, 0.26], [38.56, 0.24], [38.64, 0.27], [38.72, 0.25], [38.8, 0.27],
  [38.88, 0.24], [38.96, 0.26], [39.04, 0.25], [39.12, 0.28], [39.2, 0.26], [39.28, 0.28], [39.36, 0.27], [39.44, 0.30],
  [39.52, 0.36], [39.6, 0.45], [39.68, 0.55]
];

// annotation lines written beside each pattern
const seLabel = ['Solid dispersion of drug', 'and binary carrier 1:0.5:0.5', '(solvent evaporation)'];
const hmeLabel = ['Solid dispersion of drug', 'and binary carrier 1:0.5:0.5', '(hot-melt extrusion)'];
const pmLabel = ['Physical mixture of drug', 'and poloxamer 188 (1:1)'];
const drugLabel = ['Drug'];

const xRange = [3, 39.65];
const yRange = [0, 10.94];
const yTicks = [0, 2, 4, 6, 8, 10];

const chart = echarts.init(document.getElementById('chart'), null, { renderer: 'canvas' });

const axisGray = '#8c8c8c';
const serif = '"Liberation Serif", "Times New Roman", serif';
const sans = '"Liberation Sans", Arial, sans-serif';
const uiSans = '"Open Sans", "DejaVu Sans", sans-serif';

function annotation(lines, left, top) {
  return {
    type: 'text',
    left: left,
    top: top,
    style: {
      text: lines.join('\n'),
      font: '25px ' + serif,
      lineHeight: 27.5,
      fill: '#111'
    },
    z: 50
  };
}

function trace(name, data, color) {
  return {
    name: name,
    type: 'line',
    data: data,
    showSymbol: false,
    symbol: 'none',
    smooth: false,
    animation: false,
    lineStyle: { color: color, width: 1 },
    emphasis: { disabled: true }
  };
}

chart.setOption({
  backgroundColor: '#ffffff',
  animation: false,
  grid: { left: 104, right: 0, top: 14, bottom: 69, containLabel: false },
  xAxis: [
    {
      type: 'value',
      min: xRange[0],
      max: xRange[1],
      interval: 1,
      axisLine: { show: true, lineStyle: { color: axisGray, width: 1 } },
      axisTick: { show: true, inside: false, length: 5, lineStyle: { color: axisGray } },
      splitLine: { show: false },
      axisLabel: {
        margin: 8,
        color: '#222',
        fontSize: 15,
        fontFamily: sans,
        showMaxLabel: false,
        formatter: function (v) { return (Math.abs(v % 5) < 1e-6) ? String(Math.round(v)) : ''; }
      }
    },
    {
      type: 'value',
      position: 'top',
      min: xRange[0],
      max: xRange[1],
      axisLine: { show: true, lineStyle: { color: axisGray, width: 1 } },
      axisTick: { show: false },
      axisLabel: { show: false },
      splitLine: { show: false }
    }
  ],
  yAxis: {
    type: 'value',
    min: yRange[0],
    max: yRange[1],
    interval: 2,
    axisLine: { show: true, lineStyle: { color: axisGray, width: 1 } },
    axisTick: { show: true, length: 5, lineStyle: { color: axisGray } },
    splitLine: { show: false },
    axisLabel: {
      margin: 9,
      color: '#222',
      fontSize: 15,
      fontFamily: sans,
      showMaxLabel: false,
      formatter: function (v) {
        if (v === 0) return 'x10^3';
        if (yTicks.indexOf(v) < 0) return '';
        return v.toFixed(1);
      }
    }
  },
  series: [
    trace('Solid dispersion (solvent evaporation)', sePattern, '#873a3c'),
    trace('Solid dispersion (hot-melt extrusion)', hmePattern, '#8f4294'),
    trace('Physical mixture', physMixPattern, '#2e8d82'),
    trace('Drug', drugPattern, '#dc3440')
  ],
  graphic: [
    annotation(seLabel, 846, 66),
    annotation(hmeLabel, 848, 223),
    annotation(pmLabel, 862, 410),
    annotation(drugLabel, 959, 566),
    {
      type: 'text',
      left: 4,
      top: 752,
      style: { text: 'Materials Data, Inc.', font: '17px ' + sans, fill: '#222' }
    },
    {
      type: 'text',
      left: 586,
      top: 728,
      style: { text: '2-Theta(°)', font: '25px ' + uiSans, fill: '#111' }
    },
    {
      type: 'text',
      x: 9,
      y: 474,
      rotation: Math.PI / 2,
      style: {
        text: 'Intensity(Counts)',
        font: '24px ' + uiSans,
        fill: '#111',
        textAlign: 'left',
        textVerticalAlign: 'top'
      }
    }
  ]
});
</script>
</body>
</html>
